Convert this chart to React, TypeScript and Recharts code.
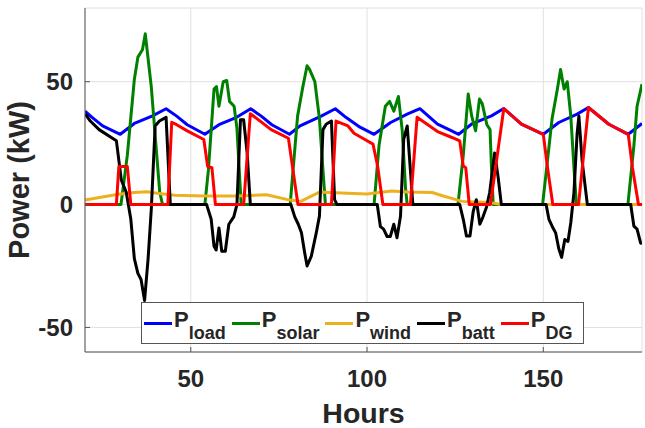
import React from "react";
import { LineChart, Line, XAxis, YAxis, CartesianGrid } from "recharts";

// hours, kW  (vertices)
const loadPts: [number, number][] = [
  [20, 38], [22, 35.5], [25, 32], [30, 28.6], [34, 33], [39, 36], [43, 39],
  [46, 36], [49, 32.5], [54, 28.6], [58, 32.5], [63, 35.5], [67, 39],
  [70, 36], [73, 32.5], [78, 28.6], [81, 32], [87, 36], [91, 39],
  [94, 35.5], [98, 31.5], [102, 28.6], [106.7, 33.4], [111.4, 36.8], [115, 39],
  [120, 32.7], [124, 30], [126, 28.6], [129.6, 32.7], [135.3, 36.1], [138.8, 39.1],
  [143.8, 32.7], [150, 28.6], [154.4, 33.4], [159.6, 36.8], [162.8, 39.5],
  [168.6, 32.7], [174.1, 28.6], [178, 33],
];

const solarPts: [number, number][] = [
  [20, 0], [30.2, 0], [32, 20], [34, 51], [35, 60], [36.3, 63], [37.1, 69.5], [38.8, 48], [40.3, 21], [41.2, 5], [42, 0],
  [54, 0], [55, 14], [56.6, 47], [57.3, 48], [58, 40], [59.2, 50], [60.2, 50.5], [61, 42], [62.3, 40], [63.1, 31], [64.3, 0],
  [78.2, 0], [80.3, 36], [81.8, 48], [83, 56.5], [83.7, 55], [85.2, 50], [86.5, 35], [87.5, 14], [88.2, 0],
  [102, 0], [103.4, 24], [105.2, 40], [106.4, 42], [107.6, 38], [108.9, 44], [110, 30], [110.9, 7], [111.4, 0],
  [125.8, 0], [127.3, 20], [128.7, 45], [129.7, 36], [130.8, 30], [131.9, 43], [132.7, 41], [134, 32.5], [134.9, 30.5], [135.3, 15], [135.8, 0],
  [149.8, 0], [152.5, 35], [154, 47], [154.9, 55], [155.9, 47], [156.8, 50], [157.8, 36], [158.7, 15], [159.4, 0],
  [174, 0], [175.7, 24], [176.6, 40], [178, 49],
];

const windPts: [number, number][] = [
  [20, 1.8], [24.5, 3], [29.5, 4.2], [34, 4.9], [37.5, 5.2], [41.5, 4.4], [45.5, 3.8],
  [54, 3.5], [63, 3.5], [71.5, 4], [77.2, 2.1], [81.2, 1.3], [86.5, 5.1], [91, 4.8],
  [100, 4.3], [107, 5.5], [111.5, 5.1], [118.5, 4.9], [121.6, 3.5], [124.3, 2.4],
  [127, 1.3], [131, 1], [135, 0.8], [138, 0], [178, 0],
];

const battPts: [number, number][] = [
  [20, 37], [21.5, 34], [24, 30.5], [28.9, 26], [30.3, 10], [31.7, 5], [33, -6], [34, -22], [35, -28], [35.9, -30.5],
  [36.9, -39], [37.9, -22], [38.8, -2], [39.9, 32], [41.1, 34], [43, 35.5], [44.2, 0],
  [54.5, 0], [55.8, -6], [56.6, -17], [57.2, -18.5], [58, -9.5], [58.8, -19], [59.8, -19], [60.8, -8], [62.2, -5],
  [63.1, 0], [64.1, 34.5], [65, 34.5], [66, 21], [66.9, 0],
  [78.4, 0], [79.5, -5], [80.5, -8], [81.4, -11.5], [82.3, -19.5], [83, -25], [84.2, -21], [85.6, -11.5], [86.5, -4.7],
  [87.5, 30.5], [88.4, 32.7], [89.9, 34], [90.8, 2], [91.5, 0],
  [102.9, 0], [103.8, -9], [104.7, -10], [105.7, -13], [106.6, -13], [107.6, -8], [108.5, -13.5], [109.5, -4.7],
  [110.4, 26.5], [111.4, 32], [112.3, 14], [113, 0],
  [126.3, 0], [127.3, -6], [128.2, -12.8], [129.2, -12.8], [130.1, -3], [131, 2], [132, -8], [132.9, -5], [133.9, -1],
  [134.8, 5], [136.2, 21], [137.2, 11], [138.1, 0],
  [150.8, 0], [151.6, -6], [152.5, -8.8], [153.5, -11.5], [154.4, -18], [155.2, -21.5], [156.1, -14.2], [157, -15],
  [157.8, -7.4], [158.7, 5], [159.6, 29], [160.1, 36], [161, 18], [162.5, 0],
  [174.8, 0], [175.7, -8.8], [176.6, -10], [177.6, -15.6], [178, -16],
];

const dgPts: [number, number][] = [
  [20, 0], [28.9, 0], [29.6, 15.5], [32, 15.5], [33, 0],
  [43.5, 0], [44.6, 33.5], [46, 32.5], [49, 30], [53.7, 26.5], [54.8, 15.5], [56, 15], [57, 0],
  [65, 0], [66.9, 37], [72.8, 30.5], [77.7, 27], [80.4, 0],
  [89.9, 0], [91.2, 34], [94.6, 32], [96.3, 29], [98.4, 27.3], [101.7, 24.6], [103, 15.7], [104.5, 0],
  [112.3, 0], [114.2, 35.5], [120, 29.7], [124.1, 27.3], [126.3, 25.9], [127.3, 15.7], [128, 15], [129, 0],
  [135, 0], [138.8, 39.1], [143.8, 32.7], [150, 28.6], [151.2, 15], [152.7, 0],
  [160, 0], [162.8, 39.5], [168.6, 32.7], [174.1, 28.6], [175.3, 15], [177, 0], [178, 0],
];

const xTicks = [50, 100, 150];
const yTicks = [-50, 0, 50];

const series = [
  { key: "load", color: "#0000ff", pts: loadPts },
  { key: "solar", color: "#008000", pts: solarPts },
  { key: "wind", color: "#edb120", pts: windPts },
  { key: "batt", color: "#000000", pts: battPts },
  { key: "DG", color: "#ff0000", pts: dgPts },
];

const FONT = '"Liberation Sans", Arial, sans-serif';
const tickStyle = { fontSize: 24, fontWeight: "bold" as const, fill: "#262626", fontFamily: FONT };
const blank = () => "";

const YTitle = (props: any) => {
  const vb = props.viewBox;
  const cx = vb.x + 29;
  const cy = vb.y + vb.height / 2;
  return (
    <text
      x={cx}
      y={cy}
      transform={`rotate(-90 ${cx} ${cy})`}
      textAnchor="middle"
      fontSize={29}
      fontWeight="bold"
      fill="#262626"
      fontFamily={FONT}
    >
      Power (kW)
    </text>
  );
};

function ChartLegend() {
  return (
    <div
      style={{
        position: "absolute",
        left: 141,
        top: 302,
        width: 443,
        height: 42,
        boxSizing: "border-box",
        border: "1px solid #555",
        background: "#fff",
        display: "flex",
        alignItems: "center",
        paddingLeft: 2,
        fontFamily: FONT,
        fontWeight: "bold",
        color: "#262626",
      }}
    >
      {series.map((s) => (
        <div key={s.key} style={{ display: "flex", alignItems: "center", marginRight: 6 }}>
          <div style={{ width: 28, height: 3, background: s.color }} />
          <span style={{ fontSize: 22, lineHeight: "22px", marginLeft: 2, position: "relative", top: -3 }}>P</span>
          <span style={{ fontSize: 18, lineHeight: "18px", position: "relative", top: 10 }}>{s.key}</span>
        </div>
      ))}
    </div>
  );
}

export default function App() {
  return (
    <div style={{ position: "absolute", left: 0, top: 0, width: 645, height: 428, background: "#fff" }}>
      <LineChart width={645} height={428} margin={{ top: 8, right: 3, bottom: 0, left: 0 }}>
        <CartesianGrid stroke="#e0e0e0" />
        <XAxis
          type="number"
          dataKey="h"
          domain={[20, 178]}
          ticks={xTicks}
          allowDataOverflow
          height={76}
          tick={tickStyle}
          tickSize={-5}
          tickMargin={23}
          tickLine={{ stroke: "#555" }}
          axisLine={{ stroke: "#555" }}
          label={{
            value: "Hours",
            position: "insideBottom",
            offset: 5,
            fontSize: 28.5,
            fontWeight: "bold",
            fill: "#262626",
            fontFamily: FONT,
          }}
        />
        <XAxis
          xAxisId="top"
          orientation="top"
          type="number"
          domain={[20, 178]}
          ticks={xTicks}
          height={0}
          mirror
          tickSize={5}
          tickFormatter={blank}
          tickLine={{ stroke: "#555" }}
          axisLine={{ stroke: "#555" }}
        />
        <YAxis
          type="number"
          domain={[-60, 80]}
          ticks={yTicks}
          allowDataOverflow
          width={85}
          tick={tickStyle}
          tickSize={-5}
          tickMargin={17}
          tickLine={{ stroke: "#555" }}
          axisLine={{ stroke: "#555" }}
          label={{ content: YTitle }}
        />
        <YAxis
          yAxisId="right"
          orientation="right"
          type="number"
          domain={[-60, 80]}
          ticks={yTicks}
          width={0}
          mirror
          tickSize={5}
          tickFormatter={blank}
          tickLine={{ stroke: "#555" }}
          axisLine={{ stroke: "#555" }}
        />
        {series.map((s) => (
          <Line
            key={s.key}
            data={s.pts.map(([h, p]) => ({ h, p }))}
            dataKey="p"
            type="linear"
            stroke={s.color}
            strokeWidth={3}
            strokeLinejoin="round"
            dot={false}
            activeDot={false}
            isAnimationActive={false}
          />
        ))}
      </LineChart>
      <ChartLegend />
    </div>
  );
}
